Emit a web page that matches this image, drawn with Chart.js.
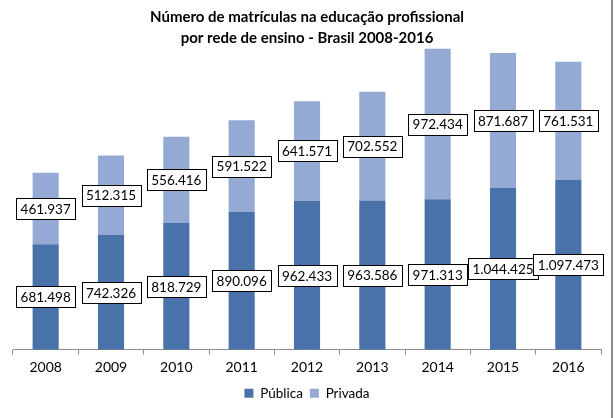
<!DOCTYPE html>
<html>
<head>
<meta charset="utf-8">
<script src="https://cdn.jsdelivr.net/npm/chart.js@4"></script>
<style>
  html, body { margin: 0; padding: 0; background: #fff; }
  #wrap { width: 611px; height: 418px; border-right: 2px solid #8c8c8c; }
</style>
</head>
<body>
<div id="wrap"><canvas id="canvas" width="611" height="418"></canvas></div>
<script>
var years = ['2008', '2009', '2010', '2011', '2012', '2013', '2014', '2015', '2016'];
var publica = [681498, 742326, 818729, 890096, 962433, 963586, 971313, 1044425, 1097473];
var privada = [461937, 512315, 556416, 591522, 641571, 702552, 972434, 871687, 761531];
var titleLines = ['Número de matrículas na educação profissional', 'por rede de ensino - Brasil 2008-2016'];

var FONT = 'Lato, "Open Sans", sans-serif';

function fmt(v) {
  // brazilian style thousands: 1.044.425
  return String(v).replace(/\B(?=(\d{3})+(?!\d))/g, '.');
}

// boxed labels in the middle of every segment
var boxLabels = {
  id: 'boxLabels',
  afterDatasetsDraw: function(chart) {
    var ctx = chart.ctx;
    ctx.save();
    ctx.font = '13.5px ' + FONT;
    ctx.textAlign = 'center';
    ctx.textBaseline = 'middle';
    chart.data.datasets.forEach(function(ds, i) {
      var meta = chart.getDatasetMeta(i);
      meta.data.forEach(function(bar, j) {
        var txt = fmt(ds.data[j]);
        var cy = (bar.y + bar.base) / 2;
        var w = Math.round(ctx.measureText(txt).width + 9);
        var h = 21;
        var x0 = Math.round(bar.x - w / 2) + 0.5;
        var y0 = Math.round(cy - h / 2) + 0.5;
        ctx.fillStyle = '#fff';
        ctx.fillRect(x0, y0, w, h);
        ctx.strokeStyle = '#000';
        ctx.lineWidth = 1;
        ctx.strokeRect(x0, y0, w, h);
        ctx.fillStyle = '#000';
        ctx.fillText(txt, bar.x, cy + 1);
      });
    });
    ctx.restore();
  }
};

var ctx = document.getElementById('canvas').getContext('2d');
var config = {
  type: 'bar',
  data: {
    labels: years,
    datasets: [{
      label: 'Pública',
      data: publica,
      backgroundColor: '#4A72AA'
    }, {
      label: 'Privada',
      data: privada,
      backgroundColor: '#94AAD4'
    }]
  },
  options: {
    responsive: false,
    animation: false,
    layout: { padding: { left: 13, right: 10, top: 0, bottom: 8 } },
    datasets: { bar: { categoryPercentage: 1, barPercentage: 0.4 } },
    scales: {
      x: {
        stacked: true,
        grid: { offset: true, drawOnChartArea: false, drawTicks: true, tickLength: 5, color: '#8c8c8c' },
        border: { display: true, color: '#8c8c8c' },
        ticks: { color: '#000', font: { family: FONT, size: 14 }, padding: 4 }
      },
      y: {
        stacked: true,
        display: false,
        min: 0,
        max: 2000000
      }
    },
    plugins: {
      title: {
        display: true,
        text: titleLines,
        color: '#000',
        font: { family: FONT, size: 15, weight: 'bold', lineHeight: 1.4 },
        padding: { top: 7, bottom: -9 }
      },
      legend: {
        position: 'bottom',
        labels: {
          color: '#000',
          font: { family: FONT, size: 13.5 },
          boxWidth: 9,
          boxHeight: 9,
          padding: 7
        }
      },
      tooltip: { enabled: false }
    }
  },
  plugins: [boxLabels]
};
var chart = new Chart(ctx, config);
</script>
</body>
</html>
